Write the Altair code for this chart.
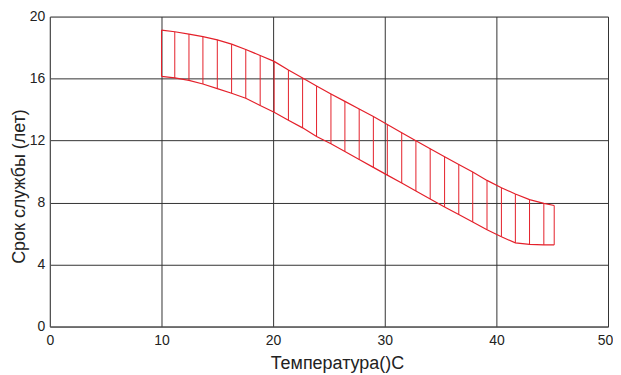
import altair as alt
import pandas as pd

hatch_x = [10.0, 11.19, 12.46, 13.71, 15.0, 16.28, 17.55, 18.84, 20.09, 21.37,
           22.64, 23.89, 25.18, 26.43, 27.71, 28.98, 30.23, 31.52, 32.79, 34.07,
           35.36, 36.63, 37.88, 39.16, 40.45, 41.7, 42.97, 44.25, 45.18]
upper_y = [19.13, 19.02, 18.87, 18.71, 18.5, 18.22, 17.88, 17.49, 17.11, 16.55,
           16.04, 15.52, 15.01, 14.53, 14.04, 13.55, 13.04, 12.5, 11.99, 11.47,
           10.96, 10.46, 9.97, 9.43, 8.96, 8.55, 8.19, 7.95, 7.81]
lower_y = [16.14, 16.04, 15.88, 15.65, 15.35, 15.05, 14.73, 14.26, 13.83, 13.31,
           12.82, 12.26, 11.79, 11.3, 10.78, 10.27, 9.77, 9.26, 8.75, 8.23,
           7.72, 7.23, 6.75, 6.24, 5.79, 5.4, 5.3, 5.27, 5.27]

x_ticks = [0, 10, 20, 30, 40, 50]
y_ticks = [0, 4, 8, 12, 16, 20]

df = pd.DataFrame({"x": hatch_x, "up": upper_y, "lo": lower_y})

RED = "#e4202a"
FONT = "Liberation Sans"

xs = alt.Scale(domain=[0, 50], nice=False)
ys = alt.Scale(domain=[0, 20], nice=False)

xaxis = alt.Axis(values=x_ticks, title="Температура()C", grid=True, gridColor="#333",
                 gridWidth=1, ticks=False, labelPadding=7, domainColor="#555",
                 labelFlush=False, labelFontSize=14, titleFontSize=18,
                 labelOffset={"condition": {"test": "datum.value == 50", "value": -3}, "value": 0},
                 titleFontWeight="normal", labelColor="#222", titleColor="#222",
                 titleX=288, titleY=42, titleBaseline="alphabetic",
                 labelFont=FONT, titleFont=FONT)
yaxis = alt.Axis(values=y_ticks, title="Срок службы (лет)", grid=True, gridColor="#333",
                 gridWidth=1, ticks=False, labelPadding=5, domainColor="#555",
                 labelFlush=False, labelFontSize=14, titleFontSize=18,
                 titleFontWeight="normal", labelColor="#222", titleColor="#222",
                 titleX=-21, titleY=170, titleBaseline="bottom", titleAngle=270,
                 labelFont=FONT, titleFont=FONT)

base = alt.Chart(df)

rules = base.mark_rule(color=RED, strokeWidth=1).encode(
    x=alt.X("x:Q", scale=xs, axis=xaxis),
    y=alt.Y("lo:Q", scale=ys, axis=yaxis),
    y2="up:Q",
)
upper = base.mark_line(color=RED, strokeWidth=1.2).encode(
    x=alt.X("x:Q", scale=xs), y=alt.Y("up:Q", scale=ys))
lower = base.mark_line(color=RED, strokeWidth=1.2).encode(
    x=alt.X("x:Q", scale=xs), y=alt.Y("lo:Q", scale=ys))

chart = alt.layer(rules, upper, lower).properties(
    width=560, height=311,
    autosize=alt.AutoSizeParams(type="none"),
    padding={"left": 42, "top": 8, "right": 5, "bottom": 48},
).configure_view(stroke="#555", strokeWidth=1).configure(background="white")

chart.save("out.html", embed_options={"renderer": "svg", "actions": False})
